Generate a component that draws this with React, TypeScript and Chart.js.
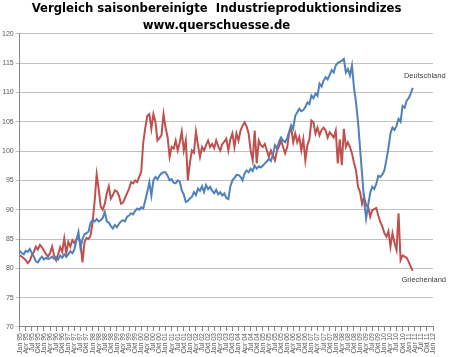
import React, { useEffect, useRef } from "react";
import { Chart, registerables } from "chart.js";
Chart.register(...registerables);

const titleLines = ["Vergleich saisonbereinigte  Industrieproduktionsindizes", "www.querschuesse.de"];
const monthNames = ["Jan", "Feb", "Mrz", "Apr", "Mai", "Jun", "Jul", "Aug", "Sep", "Okt", "Nov", "Dez"];
const years = ["95", "96", "97", "98", "99", "00", "01", "02", "03", "04", "05", "06", "07", "08", "09", "10", "11", "12"];
const seriesNames = ["Deutschland", "Griechenland"];

const deutschland = [
  83.0, 82.6, 82.4, 83.0, 82.8, 83.3, 82.6, 82.0, 81.2, 81.0, 81.6, 82.0,
  81.5, 81.8, 81.6, 81.7, 82.0, 81.6, 81.9, 81.5, 82.2, 81.8, 82.4, 82.0,
  82.4, 82.9, 82.6, 83.2, 84.8, 86.2, 83.5, 85.0, 85.8, 86.0, 86.3, 87.8,
  88.2, 88.0, 88.4, 88.0, 88.2, 88.6, 89.6, 88.0, 87.8, 87.2, 86.8, 87.4,
  87.0, 87.6, 88.0, 88.2, 88.0, 88.8, 89.0, 89.4, 89.2, 89.8, 90.2, 90.0,
  90.4, 90.2, 91.6, 93.0, 94.7, 92.4, 95.0, 95.6, 95.2, 95.8, 96.2, 96.4,
  96.4, 95.8, 95.0, 95.2, 94.6, 94.5, 95.0, 94.8, 93.3, 92.6, 91.3, 91.5,
  91.9, 92.2, 93.0, 92.5, 93.6, 93.2, 94.0, 93.0, 94.2, 93.5, 93.9, 93.2,
  92.8, 93.4, 92.6, 93.0, 92.4, 92.8, 92.0, 91.8, 94.0, 95.0, 95.4, 95.9,
  95.9, 95.6, 95.0, 96.2, 96.7, 96.4, 97.0, 96.6, 97.5, 97.0, 97.4, 97.2,
  97.5, 97.9, 98.2, 98.7, 98.3, 99.4, 101.0, 100.4, 101.6, 102.3, 101.8, 101.5,
  102.2, 103.3, 104.4, 103.8, 106.0, 106.6, 107.2, 106.8, 107.0, 107.5, 108.3, 108.0,
  109.5, 109.0, 109.8, 109.4, 111.5, 111.0, 112.0, 112.6, 112.2, 113.0, 113.8, 113.4,
  114.6, 115.0, 115.2, 115.4, 115.7, 113.4, 114.0, 112.9, 114.6, 110.8, 108.3, 105.0,
  100.5, 96.0, 91.5, 88.5, 90.8, 92.8, 93.9, 93.5, 94.4, 95.8, 95.6, 96.0,
  96.7, 98.5, 100.5, 103.0, 104.0, 103.6, 104.3, 105.5, 105.0, 107.7, 107.4, 108.6,
  109.0, 109.8, 110.8,
];

const griechenland = [
  82.2, 82.0, 81.7, 81.4, 80.9, 81.3, 82.2, 82.8, 83.7, 83.2, 84.0, 83.6,
  83.0, 82.4, 82.0, 82.6, 83.7, 82.2, 81.4, 82.4, 83.6, 82.8, 85.1, 82.6,
  84.5, 83.7, 84.8, 84.3, 85.0, 85.1, 84.5, 81.0, 84.5, 85.2, 85.0, 85.6,
  87.9, 91.5, 96.0, 93.5, 90.5, 90.0, 91.0, 92.8, 94.0, 91.9, 92.5, 93.3,
  93.1, 92.4, 91.0, 91.2, 92.0, 92.8, 93.6, 94.7, 94.5, 95.0, 94.7, 95.6,
  96.5, 101.5, 104.0, 106.0, 106.3, 103.8, 106.3, 105.0, 101.8, 102.2, 102.7, 106.3,
  104.0, 102.4, 99.0, 100.7, 100.4, 101.8, 100.1, 101.5, 103.3, 100.1, 101.8, 95.0,
  98.0, 100.1, 99.7, 103.3, 101.0, 99.0, 100.7, 100.1, 101.0, 101.8, 100.7, 101.2,
  100.5, 101.8, 100.8, 100.1, 101.2, 101.6, 102.1, 100.1, 102.0, 103.0, 100.7, 103.0,
  101.8, 103.5, 104.3, 104.9, 104.2, 103.0, 100.1, 98.4, 103.5, 97.9, 101.8, 101.0,
  100.7, 101.2, 100.1, 99.0, 100.1, 99.2, 98.4, 100.1, 100.8, 101.8, 100.7, 99.6,
  100.6, 103.0, 104.0, 101.5, 103.0, 101.5, 102.4, 100.1, 102.0, 98.4, 101.0, 102.0,
  105.2, 104.9, 103.0, 104.0, 102.7, 103.6, 104.0, 103.5, 102.3, 103.2, 102.8, 102.3,
  103.5, 97.9, 102.0, 97.6, 103.8, 100.7, 101.5, 100.7, 99.6, 98.0, 96.7, 93.9,
  93.0, 91.0, 92.2, 90.7, 90.5, 88.8, 89.9, 90.1, 90.3, 89.0, 87.9, 87.1,
  86.0, 85.4, 86.3, 83.7, 86.0, 84.3, 83.1, 89.4, 81.4, 82.2, 82.0, 81.8,
  81.1, 80.3, 79.6,
];

const categories: string[] = [];
years.forEach((y, yi) => {
  monthNames.forEach((m) => {
    if (yi < years.length - 1 || m === "Jan") categories.push(m + " " + y);
  });
});

const endLabels = {
  id: "endLabels",
  afterDatasetsDraw(chart: any) {
    const ctx = chart.ctx;
    ctx.save();
    ctx.font = "7.5px 'Liberation Sans', Arial, sans-serif";
    ctx.fillStyle = "#404040";
    ctx.textAlign = "center";
    ctx.textBaseline = "middle";
    const offsets = [[12, -12], [11, 9]];
    chart.data.datasets.forEach((ds: any, i: number) => {
      const meta = chart.getDatasetMeta(i);
      const last = meta.data[ds.data.length - 1];
      if (last) ctx.fillText(ds.label, last.x + offsets[i][0], last.y + offsets[i][1]);
    });
    ctx.restore();
  },
};

export default function App() {
  const ref = useRef<HTMLCanvasElement>(null);
  useEffect(() => {
    if (!ref.current) return;
    const chart = new Chart(ref.current, {
      type: "line",
      data: {
        labels: categories,
        datasets: [
          { label: seriesNames[0], data: deutschland, borderColor: "#4F81BD", backgroundColor: "#4F81BD", borderWidth: 2, pointRadius: 0, tension: 0 },
          { label: seriesNames[1], data: griechenland, borderColor: "#C0504D", backgroundColor: "#C0504D", borderWidth: 2, pointRadius: 0, tension: 0 },
        ],
      },
      options: {
        animation: false,
        responsive: true,
        maintainAspectRatio: false,
        layout: { padding: { left: 0, right: 17, top: 0, bottom: 1 } },
        plugins: {
          legend: { display: false },
          tooltip: { enabled: false },
          title: {
            display: true,
            text: titleLines,
            color: "#000000",
            font: { family: "'DejaVu Sans', sans-serif", size: 11.7, weight: "bold", lineHeight: 1.4 },
            padding: { top: 1, bottom: 0 },
          },
        },
        scales: {
          x: {
            type: "category",
            offset: false,
            grid: { drawOnChartArea: false, color: "#868686", tickLength: 4 },
            border: { color: "#868686" },
            ticks: {
              autoSkip: false,
              maxRotation: 90,
              minRotation: 90,
              padding: 2,
              color: "#595959",
              font: { family: "'Liberation Sans', Arial, sans-serif", size: 7 },
              callback: (_v: any, i: number) => (i % 3 === 0 ? categories[i] : null),
            },
          },
          y: {
            min: 70,
            max: 120,
            grid: { color: "#C0C0C0", tickLength: 4 },
            border: { color: "#868686" },
            ticks: {
              stepSize: 5,
              padding: 2,
              color: "#595959",
              font: { family: "'Liberation Sans', Arial, sans-serif", size: 7 },
            },
          },
        },
      },
      plugins: [endLabels],
    });
    return () => chart.destroy();
  }, []);
  return (
    <div style={{ position: "fixed", left: 0, top: 0, width: 450, height: 357, background: "#ffffff" }}>
      <canvas ref={ref} />
    </div>
  );
}
